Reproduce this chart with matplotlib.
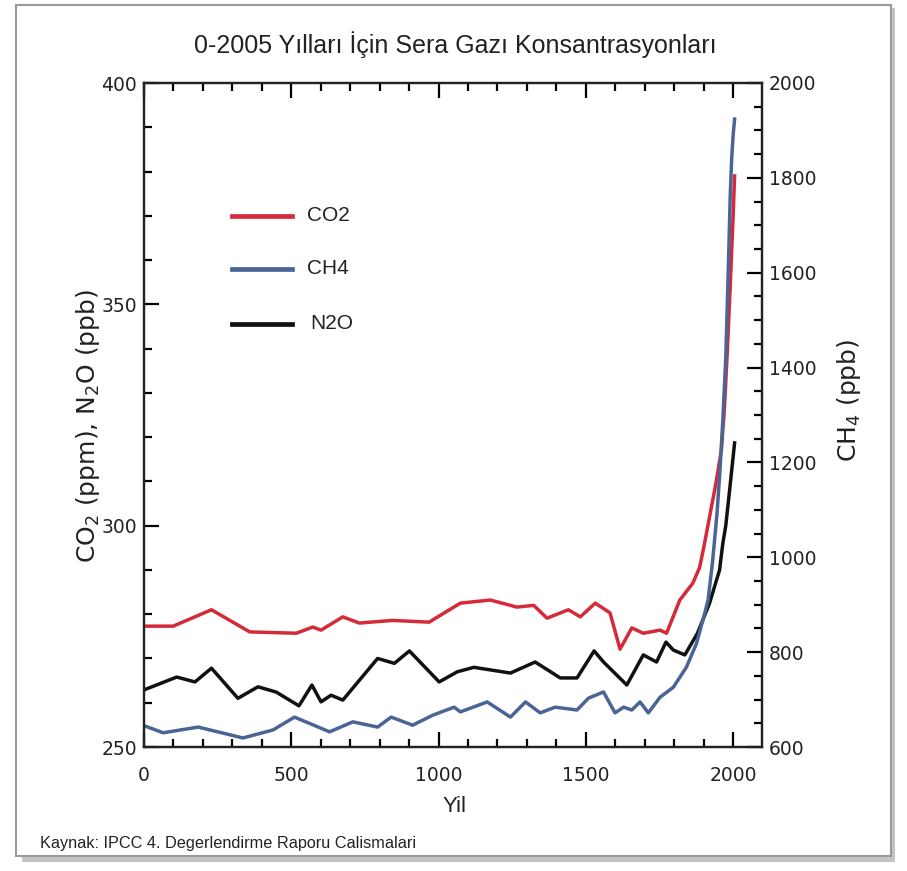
import matplotlib
matplotlib.use("Agg")
import matplotlib.pyplot as plt
from matplotlib.ticker import MultipleLocator
from matplotlib.patches import Rectangle

co2_years = [0, 99, 229, 359, 517, 573, 601, 675, 731, 844, 968, 1007, 1074, 1176, 1266, 1323, 1368,
             1441, 1481, 1532, 1582, 1616, 1656, 1695, 1752, 1774, 1819, 1863, 1886, 1900, 1920, 1940,
             1960, 1970, 1980, 1990, 2000, 2005]
co2_vals = [277.3, 277.3, 281.0, 276.0, 275.7, 277.1, 276.4, 279.4, 278.0, 278.6, 278.2, 279.8, 282.5,
            283.2, 281.6, 282.0, 279.1, 281.0, 279.4, 282.5, 280.3, 272.1, 276.9, 275.7, 276.4, 275.7,
            283.2, 287.0, 290.5, 295.0, 302.0, 309.0, 317.0, 326.0, 339.0, 354.0, 370.0, 379.0]

n2o_years = [0, 111, 173, 229, 319, 387, 449, 526, 570, 601, 635, 675, 793, 850, 901, 1002, 1064, 1120,
             1244, 1328, 1413, 1470, 1528, 1560, 1639, 1695, 1740, 1772, 1797, 1836, 1879, 1920, 1954,
             1965, 1975, 1988, 2005]
n2o_vals = [262.9, 265.8, 264.7, 267.8, 261.0, 263.6, 262.4, 259.3, 264.0, 260.2, 261.7, 260.6, 270.0,
            268.9, 271.7, 264.7, 267.0, 268.0, 266.7, 269.2, 265.6, 265.6, 271.7, 269.2, 264.0, 270.8,
            269.2, 273.7, 271.9, 270.8, 275.7, 282.5, 290.0, 296.0, 300.0, 308.0, 318.7]

ch4_years = [0, 65, 184, 336, 438, 511, 630, 709, 793, 839, 912, 980, 1053, 1074, 1165, 1244, 1295, 1345,
             1396, 1470, 1509, 1560, 1599, 1628, 1656, 1684, 1712, 1752, 1797, 1842, 1876, 1904, 1915,
             1930, 1945, 1955, 1965, 1975, 1985, 1990, 1995, 2000, 2005]
ch4_vals = [645, 630, 642, 619, 636, 663, 632, 653, 642, 663, 646, 667, 684, 674, 695, 663, 695, 672,
            684, 678, 703, 716, 672, 684, 678, 695, 672, 705, 726, 769, 819, 883, 910, 990, 1090, 1180,
            1290, 1420, 1640, 1760, 1840, 1890, 1924]

title = "0-2005 Yılları İçin Sera Gazı Konsantrasyonları"
xlabel = "Yil"
ylabel_left = "CO$_2$ (ppm), N$_2$O (ppb)"
ylabel_right = "CH$_4$ (ppb)"
source = "Kaynak: IPCC 4. Degerlendirme Raporu Calismalari"
legend_labels = ["CO2", "CH4", "N2O"]

RED = "#d42a3a"
BLUE = "#4a6496"
BLACK = "#111111"
TXT = "#222222"
sans = ["Liberation Sans", "DejaVu Sans"]

fig = plt.figure(figsize=(9.07, 8.71), dpi=100)
fig.patch.set_facecolor("white")

# frame around the picture (drawn below the axes)
fig.patches.append(Rectangle((22 / 907, 1 - 862 / 871), 873 / 907, 854 / 871, transform=fig.transFigure,
                             facecolor="#c4c4c4", edgecolor="none", zorder=-2))
fig.patches.append(Rectangle((16 / 907, 1 - 856 / 871), 875 / 907, 851 / 871, transform=fig.transFigure,
                             facecolor="white", edgecolor="#9a9a9a", linewidth=1.5, zorder=-1))

ax = fig.add_axes([144 / 907, 1 - 747 / 871, (762 - 144) / 907, (747 - 83) / 871])
ax2 = ax.twinx()
ax.patch.set_visible(False)

ax.plot(co2_years, co2_vals, color=RED, lw=2.5, zorder=3)
ax.plot(n2o_years, n2o_vals, color=BLACK, lw=2.5, zorder=3)
ax2.plot(ch4_years, ch4_vals, color=BLUE, lw=2.5, zorder=2)

ax.set_xlim(0, 2098)
ax.set_ylim(250, 400)
ax2.set_ylim(600, 2000)

ax.xaxis.set_major_locator(MultipleLocator(500))
ax.xaxis.set_minor_locator(MultipleLocator(100))
ax.yaxis.set_major_locator(MultipleLocator(50))
ax.yaxis.set_minor_locator(MultipleLocator(10))
ax2.yaxis.set_major_locator(MultipleLocator(200))
ax2.yaxis.set_minor_locator(MultipleLocator(50))

ax.tick_params(axis="x", which="both", direction="in", top=True, bottom=True, width=1.6, pad=14)
ax.tick_params(axis="x", which="major", length=11)
ax.tick_params(axis="x", which="minor", length=6)
ax.tick_params(axis="y", which="both", direction="in", left=True, right=False, width=1.6, pad=5)
ax.tick_params(axis="y", which="major", length=11)
ax.tick_params(axis="y", which="minor", length=6)
ax2.tick_params(axis="y", which="both", direction="in", width=1.6, pad=5)
ax2.tick_params(axis="y", which="major", length=11)
ax2.tick_params(axis="y", which="minor", length=6)

for lab in ax.get_xticklabels() + ax.get_yticklabels() + ax2.get_yticklabels():
    lab.set_fontfamily("DejaVu Sans")
    lab.set_fontsize(13.5)
    lab.set_color(TXT)

for a in (ax, ax2):
    for s in a.spines.values():
        s.set_linewidth(1.6)
        s.set_color(TXT)

# legend
leg_y = [370, 358, 345.6]
leg_colors = [RED, BLUE, BLACK]
for lab, yv, c in zip(legend_labels, leg_y, leg_colors):
    ax.plot([300, 503], [yv, yv], color=c, lw=3.4, zorder=4)
    ax.text(553 if lab != "N2O" else 563, yv, lab, fontsize=15, family=sans,
            va="center", ha="left", color=TXT)

fig.text(455 / 907, 1 - 45 / 871, title, ha="center", va="center", fontsize=18, family=sans, color=TXT)
fig.text(455 / 907, 1 - 806 / 871, xlabel, ha="center", va="center", fontsize=16, family=sans, color=TXT)
fig.text(88 / 907, 1 - 426 / 871, ylabel_left, ha="center", va="center", rotation=90, fontsize=18,
         family="DejaVu Sans", color=TXT)
fig.text(849 / 907, 1 - 400 / 871, ylabel_right, ha="center", va="center", rotation=90, fontsize=18,
         family="DejaVu Sans", color=TXT)
fig.text(40 / 907, 1 - 843 / 871, source, ha="left", va="center", fontsize=11.7, family=sans, color=TXT)

fig.savefig("out.png", dpi=100)
